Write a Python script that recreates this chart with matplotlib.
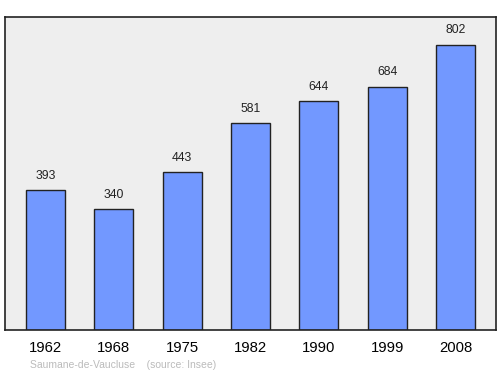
import matplotlib
matplotlib.use("Agg")
import matplotlib.pyplot as plt

plt.rcParams['font.family'] = ['Liberation Sans', 'DejaVu Sans']

years = ["1962", "1968", "1975", "1982", "1990", "1999", "2008"]
population = [393, 340, 443, 581, 644, 684, 802]

fig = plt.figure(figsize=(5, 3.74), dpi=100)
ax = fig.add_axes([0.01, 0.1176, 0.982, 0.837])
ax.set_facecolor("#eeeeee")
x = list(range(len(years)))
ax.bar(x, population, width=0.57, color="#7298ff", edgecolor="#222222", linewidth=1)
for xi, v in zip(x, population):
    ax.annotate(str(v), (xi, v), xytext=(0, 6), textcoords="offset points",
                ha="center", va="bottom", fontsize=8.7, color="#222222")
ax.set_xlim(-0.593, 6.593)
ax.set_ylim(0, 880)
ax.set_yticks([])
ax.set_xticks(x)
ax.set_xticklabels(years, fontsize=10.7)
ax.tick_params(axis="x", length=0, pad=8)
for s in ax.spines.values():
    s.set_color("#222222")
    s.set_linewidth(1.2)
fig.text(0.061, 0.01, "Saumane-de-Vaucluse    (source: Insee)", fontsize=7.5, color="#bbbbbb",
         ha="left", va="bottom")
fig.savefig("out.png", dpi=100)
